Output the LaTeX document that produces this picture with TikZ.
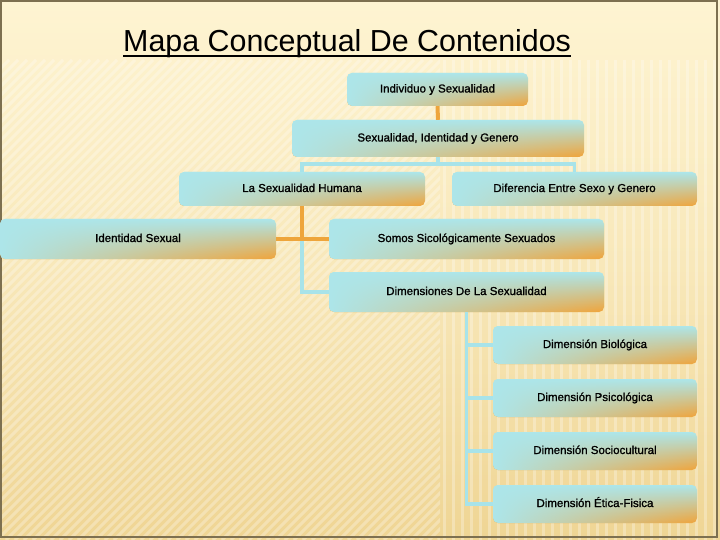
\documentclass[tikz,border=0pt]{standalone}
\usepackage{fontspec}
\setmainfont{Liberation Sans}
\newfontfamily\boxfont{Liberation Sans}[BoldFont={Liberation Sans}, BoldFeatures={FakeBold=1.2}]
\usetikzlibrary{fadings}
\definecolor{bgtop}{HTML}{FEF4D2}
\definecolor{bgbot}{HTML}{EFD594}
\definecolor{bcyan}{HTML}{ADE6EA}
\definecolor{btan}{HTML}{D9C9A8}
\definecolor{borange}{HTML}{F1A43A}
\definecolor{lcyan}{HTML}{A8E3E9}
\definecolor{lorange}{HTML}{EEA53B}
\definecolor{framecol}{HTML}{7D7050}
\tikzfading[name=cyfade, left color=transparent!0, middle color=transparent!40, right color=transparent!100]
\tikzset{
  cbox/.style={top color=bcyan, middle color=btan, bottom color=borange, rounded corners=5pt, inner sep=0pt,
    text height=8.5pt, text depth=2.5pt,
    font=\boxfont\bfseries\fontsize{11.5}{13}\selectfont, text=black,
    path picture={\fill[bcyan, path fading=cyfade] (path picture bounding box.south west) rectangle (path picture bounding box.north east);}},
  cyline/.style={draw=lcyan, line width=3.5pt},
  orline/.style={draw=lorange, line width=4pt},
  stripe/.style={draw=white, opacity=0.28, line width=3pt},
}
\begin{document}
\begin{tikzpicture}[x=1pt,y=-1pt]
\useasboundingbox (0,0) rectangle (720,540);
% background
\shade[top color=bgtop, bottom color=bgbot, middle color=bgtop!60!bgbot] (0,0) rectangle (720,540);
\begin{scope}
  \clip (0,60) rectangle (440,540);
  \foreach \i in {-480,-471,...,440} \draw[stripe] (\i,540) -- ++(480,-480);
\end{scope}
\begin{scope}
  \clip (440,60) rectangle (720,540);
  \foreach \i in {444,453,...,720} \draw[stripe] (\i,60) -- (\i,540);
\end{scope}
\draw[framecol, line width=1.5pt] (1,1) rectangle (717,537);
% title
\node[anchor=base west, inner sep=0pt, font=\fontsize{30.4}{36}\selectfont] (title) at (123,52) {Mapa Conceptual De Contenidos};
\draw[line width=1.8pt] ([yshift=-4pt]title.base west) -- ([yshift=-4pt]title.base east);
% nodes
\node[cbox, minimum width=181pt, minimum height=33pt] (n1) at (437.5,89.5) {Individuo y Sexualidad};
\node[cbox, minimum width=292pt, minimum height=37pt] (n2) at (438,138.5) {Sexualidad, Identidad y Genero};
\node[cbox, minimum width=246pt, minimum height=34pt] (n3) at (302,189) {La Sexualidad Humana};
\node[cbox, minimum width=245pt, minimum height=34pt] (n4) at (574.5,189) {Diferencia Entre Sexo y Genero};
\node[cbox, minimum width=276pt, minimum height=40pt] (n5) at (138,239) {Identidad Sexual};
\node[cbox, minimum width=275pt, minimum height=40pt] (n6) at (466.5,239) {Somos Sicológicamente Sexuados};
\node[cbox, minimum width=275pt, minimum height=40pt] (n7) at (466.5,292) {Dimensiones De La Sexualidad};
\node[cbox, minimum width=204pt, minimum height=38pt] (n8) at (595,345) {Dimensión Biológica};
\node[cbox, minimum width=204pt, minimum height=38pt] (n9) at (595,398) {Dimensión Psicológica};
\node[cbox, minimum width=204pt, minimum height=38pt] (n10) at (595,451) {Dimensión Sociocultural};
\node[cbox, minimum width=204pt, minimum height=38pt] (n11) at (595,504) {Dimensión Ética-Fisica};
% connectors
\coordinate (j2) at (438,164);
\draw[orline] (n1.south) -- (n2.north);
\draw[cyline] (n2.south) -- (j2) -| (n3.north);
\draw[cyline] (j2) -| (n4.north);
\draw[cyline] (n3.south) |- (n7.west);
\draw[orline] (n3.south) -- (n3.south |- n5.east);
\draw[orline] (n5.east) -- (n6.west);
\draw[cyline] (n7.south) |- (n8.west);
\draw[cyline] (n7.south) |- (n9.west);
\draw[cyline] (n7.south) |- (n10.west);
\draw[cyline] (n7.south) |- (n11.west);
\end{tikzpicture}
\end{document}
